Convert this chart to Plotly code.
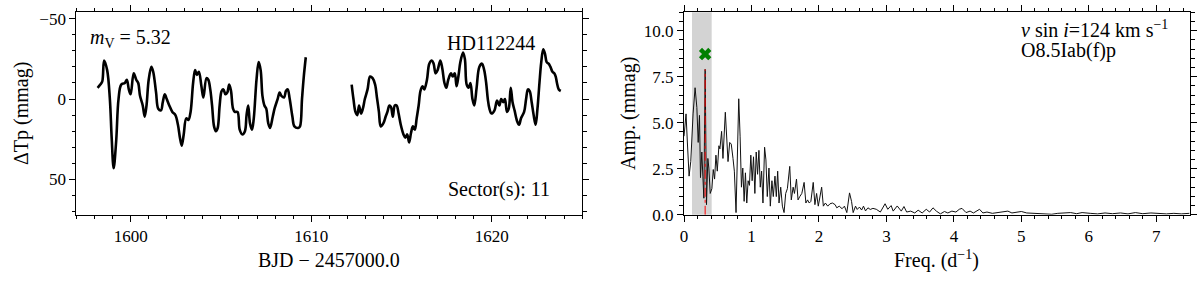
import plotly.graph_objects as go

# ---------------- data ----------------
# light curve, first orbit (BJD - 2457000, delta Tp in mmag)
t1 = [1598.17, 1598.32, 1598.43, 1598.53, 1598.70, 1598.85, 1598.95, 1599.06, 1599.20, 1599.33,
      1599.48, 1599.68, 1599.79, 1599.90, 1600.00, 1600.17, 1600.31, 1600.42, 1600.52, 1600.67,
      1600.78, 1600.88, 1601.00, 1601.15, 1601.25, 1601.41, 1601.53, 1601.68, 1601.78, 1601.89,
      1602.00, 1602.14, 1602.31, 1602.48, 1602.62, 1602.73, 1602.83, 1602.94, 1603.08, 1603.20,
      1603.32, 1603.46, 1603.57, 1603.67, 1603.78, 1603.92, 1604.03, 1604.20, 1604.30, 1604.41,
      1604.51, 1604.62, 1604.72, 1604.82, 1604.93, 1605.04, 1605.14, 1605.25, 1605.35, 1605.46,
      1605.56, 1605.67, 1605.77, 1605.92, 1606.04, 1606.19, 1606.33, 1606.42, 1606.51, 1606.61,
      1606.72, 1606.82, 1606.97, 1607.09, 1607.20, 1607.30, 1607.41, 1607.51, 1607.62, 1607.72,
      1607.87, 1607.97, 1608.14, 1608.25, 1608.35, 1608.50, 1608.60, 1608.70, 1608.81, 1608.96,
      1609.07, 1609.28, 1609.38, 1609.49, 1609.59, 1609.70]
m1 = [-7, -9, -11, -24, -18, 0, 24, 43, 26, 0,
      -9, -10, -12, -6, -3, -16, -12, -10, -2, 4,
      11, 4, -12, -20, -17, -4, 6, 7, 2, -3,
      0, 4, 8, 10, 16, 24, 29, 22, 12, 13,
      8, -10, -18, -15, -17, -8, -1, -13, -12, -6,
      4, 17, 20, 18, 4, -5, -6, -3, -4, -9,
      -5, 6, 8, 8, 19, 22, 20, 10, 4, 15,
      19, 12, -12, -23, -18, -2, 4, 6, 15, 18,
      11, 6, 0, -4, -2, -1, -5, -6, 0, 11,
      17, 18, 17, 0, -14, -26]
# light curve, second orbit
t2 = [1612.24, 1612.34, 1612.45, 1612.55, 1612.65, 1612.76, 1612.86, 1612.97, 1613.12, 1613.26,
      1613.40, 1613.54, 1613.64, 1613.75, 1613.85, 1614.00, 1614.12, 1614.22, 1614.33, 1614.42,
      1614.52, 1614.63, 1614.73, 1614.84, 1614.96, 1615.11, 1615.21, 1615.32, 1615.42, 1615.53,
      1615.63, 1615.74, 1615.84, 1615.95, 1616.05, 1616.16, 1616.26, 1616.41, 1616.54, 1616.68,
      1616.78, 1616.89, 1617.00, 1617.15, 1617.26, 1617.38, 1617.48, 1617.59, 1617.74, 1617.84,
      1617.95, 1618.05, 1618.15, 1618.26, 1618.41, 1618.51, 1618.61, 1618.72, 1618.82, 1618.93,
      1619.03, 1619.16, 1619.31, 1619.46, 1619.58, 1619.69, 1619.78, 1619.87, 1619.98, 1620.15,
      1620.29, 1620.42, 1620.52, 1620.63, 1620.73, 1620.84, 1620.94, 1621.05, 1621.15, 1621.26,
      1621.41, 1621.51, 1621.62, 1621.79, 1621.90, 1622.00, 1622.10, 1622.21, 1622.32, 1622.43,
      1622.53, 1622.64, 1622.74, 1622.85, 1622.95, 1623.04, 1623.15, 1623.25, 1623.36, 1623.46,
      1623.54, 1623.61, 1623.71, 1623.82]
m2 = [-9, 0, 8, 10, 4, 9, 6, 0, -6, -14,
      -13, -9, -1, 8, 17, 15, 11, 8, 4, 5,
      11, 4, 4, 9, 16, 22, 24, 22, 27, 21,
      17, 19, 12, 4, -5, -8, -6, -12, -22, -24,
      -22, -16, -18, -24, -19, -10, -7, -12, -16, -14,
      -16, -8, -14, -23, -29, -25, -9, -7, -10, 0,
      4, -7, -20, -22, -18, -10, 0, 6, 9, 7,
      1, 4, 0, 2, 0, 8, 6, -7, 2, 7,
      14, 16, 12, 8, 0, -6, -5, 2, 10, 16,
      6, -10, -23, -31, -28, -23, -22, -20, -17, -16,
      -14, -10, -6, -5]

# amplitude spectrum (frequency in 1/d, amplitude in mmag)
freq = [0.0, 0.03, 0.05, 0.075, 0.10, 0.134, 0.164, 0.19, 0.21, 0.229,
        0.244, 0.264, 0.279, 0.294, 0.313, 0.333, 0.353, 0.368, 0.388, 0.413,
        0.433, 0.453, 0.473, 0.493, 0.517, 0.532, 0.557, 0.577, 0.612, 0.632,
        0.652, 0.677, 0.70, 0.726, 0.746, 0.771, 0.796, 0.811, 0.831, 0.851,
        0.871, 0.891, 0.91, 0.93, 0.95, 0.97, 0.99, 1.01, 1.03, 1.05,
        1.07, 1.09, 1.11, 1.13, 1.15, 1.17, 1.194, 1.214, 1.234, 1.259,
        1.279, 1.303, 1.323, 1.348, 1.368, 1.388, 1.408, 1.433, 1.458, 1.483,
        1.507, 1.532, 1.567, 1.59, 1.617, 1.637, 1.667, 1.69, 1.716, 1.746,
        1.78, 1.806, 1.831, 1.856, 1.88, 1.915, 1.94, 1.965, 1.99, 2.005,
        2.04, 2.065, 2.095, 2.13, 2.164, 2.20, 2.24, 2.264, 2.30, 2.343,
        2.378, 2.413, 2.453, 2.483, 2.507, 2.542, 2.567, 2.60, 2.632, 2.66,
        2.69, 2.726, 2.76, 2.80, 2.85, 2.91, 2.98, 3.02, 3.07, 3.10,
        3.16, 3.22, 3.26, 3.30, 3.36, 3.42, 3.47, 3.53, 3.59, 3.64,
        3.69, 3.74, 3.80, 3.86, 3.91, 3.97, 4.03, 4.08, 4.12, 4.18,
        4.24, 4.29, 4.38, 4.43, 4.49, 4.57, 4.66, 4.74, 4.80, 4.86,
        4.94, 5.00, 5.08, 5.17, 5.25, 5.37, 5.45, 5.54, 5.62, 5.73,
        5.82, 5.90, 6.02, 6.13, 6.24, 6.35, 6.47, 6.58, 6.69, 6.80,
        6.92, 7.03, 7.15, 7.26, 7.37, 7.49]
amp = [4.27, 5.48, 3.9, 2.1, 2.9, 5.48, 6.9, 5.83, 3.93, 5.4,
       2.02, 3.41, 2.1, 0.9, 7.9, 0.55, 3.06, 2.54, 1.16, 1.42,
       2.46, 1.94, 3.24, 2.37, 3.75, 3.58, 4.53, 3.06, 5.57, 4.36,
       2.89, 3.93, 3.84, 3.06, 2.37, 0.12, 4.27, 6.3, 4.27, 1.5,
       2.54, 0.73, 2.28, 0.64, 1.85, 1.6, 3.24, 1.85, 3.15, 1.16,
       3.41, 2.2, 3.5, 1.5, 2.37, 0.64, 3.67, 2.98, 0.99, 2.54,
       0.47, 1.85, 0.99, 2.1, 0.99, 2.37, 0.64, 1.5, 0.47, 0.12,
       1.16, 1.42, 2.63, 0.81, 1.5, 1.16, 1.94, 0.81, 0.99, 1.16,
       1.76, 0.64, 0.81, 0.64, 0.73, 1.76, 0.55, 1.16, 0.47, 0.81,
       1.5, 0.47, 0.64, 0.47, 0.6, 0.64, 0.55, 0.38, 0.47, 0.33,
       0.47, 0.12, 1.19, 0.73, 0.12, 0.47, 0.29, 0.42, 0.26, 0.47,
       0.21, 0.38, 0.29, 0.35, 0.3, 0.15, 0.6, 0.3, 0.5, 0.2,
       0.48, 0.2, 0.45, 0.15, 0.2, 0.1, 0.25, 0.1, 0.3, 0.15,
       0.38, 0.2, 0.05, 0.18, 0.1, 0.2, 0.15, 0.3, 0.35, 0.12,
       0.2, 0.1, 0.3, 0.1, 0.15, 0.08, 0.12, 0.15, 0.2, 0.1,
       0.15, 0.18, 0.1, 0.08, 0.1, 0.05, 0.03, 0.08, 0.1, 0.12,
       0.06, 0.12, 0.08, 0.05, 0.1, 0.06, 0.1, 0.05, 0.12, 0.06,
       0.1, 0.08, 0.05, 0.08, 0.05, 0.08]

peak_freq = 0.313
peak_amp = 7.9
marker_amp = 8.73
band_lo, band_hi = 0.118, 0.41

lc_yticks = [-50, 0, 50]
lc_yticklabels = ["\u221250", "0", "50"]
lc_xticks = [1600, 1610, 1620]
lc_xticklabels = ["1600", "1610", "1620"]
ps_xticks = [0, 1, 2, 3, 4, 5, 6, 7]
ps_yticks = [0.0, 2.5, 5.0, 7.5, 10.0]
ps_yticklabels = ["0.0", "2.5", "5.0", "7.5", "10.0"]

# ---------------- figure ----------------
W, H = 1200, 281
FONT = "Liberation Serif"


def px(x):
    return x / W


def py(y):
    return 1 - y / H


fig = go.Figure()

for tt, mm in ((t1, m1), (t2, m2)):
    fig.add_trace(go.Scatter(x=tt, y=mm, mode="lines", line=dict(color="black", width=2.6),
                             line_shape="spline", xaxis="x", yaxis="y", showlegend=False,
                             hoverinfo="skip"))

fig.add_trace(go.Scatter(x=freq, y=amp, mode="lines", line=dict(color="#111111", width=1),
                         xaxis="x2", yaxis="y2", showlegend=False, hoverinfo="skip"))
fig.add_trace(go.Scatter(x=[peak_freq, peak_freq], y=[0, peak_amp], mode="lines",
                         line=dict(color="red", width=1, dash="dashdot"),
                         xaxis="x2", yaxis="y2", showlegend=False, hoverinfo="skip"))
fig.add_trace(go.Scatter(x=[peak_freq], y=[marker_amp], mode="markers",
                         marker=dict(symbol="x", color="green", size=11,
                                     line=dict(width=0)),
                         xaxis="x2", yaxis="y2", showlegend=False, hoverinfo="skip"))

fig.add_shape(type="rect", xref="x2", yref="y2 domain", x0=band_lo, x1=band_hi, y0=0, y1=1,
              fillcolor="lightgrey", line=dict(width=0), layer="below")

tickfont = dict(family=FONT, size=17, color="black")
common = dict(showline=True, linecolor="black", linewidth=1.2, mirror="ticks",
              ticks="outside", ticklen=6, tickwidth=1.1, tickcolor="black",
              showgrid=False, zeroline=False, tickfont=tickfont)

yd = [py(222.3), py(10.7)]
fig.update_layout(
    width=W, height=H, margin=dict(l=0, r=0, t=0, b=0),
    paper_bgcolor="white", plot_bgcolor="white",
    font=dict(family=FONT, color="black"),
    xaxis=dict(domain=[px(72.7), px(580)], range=[1597, 1625], tickvals=lc_xticks,
               ticktext=lc_xticklabels,
               minor=dict(dtick=1, tick0=1600, ticks="outside", ticklen=3.5, tickcolor="black"),
               anchor="y", **common),
    yaxis=dict(domain=yd, range=[72, -54], tickvals=lc_yticks, ticktext=lc_yticklabels,
               minor=dict(dtick=10, tick0=0, ticks="outside", ticklen=3.5, tickcolor="black"),
               anchor="x", **common),
    xaxis2=dict(domain=[px(682.3), px(1190)], range=[0, 7.5], tickvals=ps_xticks,
                minor=dict(dtick=0.2, tick0=0, ticks="outside", ticklen=3.5, tickcolor="black"),
                anchor="y2", **common),
    yaxis2=dict(domain=yd, range=[0, 11], tickvals=ps_yticks, ticktext=ps_yticklabels,
                minor=dict(dtick=0.5, tick0=0, ticks="outside", ticklen=3.5, tickcolor="black"),
                anchor="x2", **common),
)

ann = [
    dict(text="BJD \u2212 2457000.0", x=px(326), y=py(270), xanchor="center", yanchor="middle", size=20),
    dict(text="Freq. (d<sup>\u22121</sup>)", x=px(936), y=py(269), xanchor="center", yanchor="middle", size=20),
    dict(text="\u0394Tp (mmag)", x=px(17), y=py(116), xanchor="center", yanchor="middle", size=20, angle=-90),
    dict(text="Amp. (mmag)", x=px(626), y=py(116), xanchor="center", yanchor="middle", size=20, angle=-90),
    dict(text="<i>m</i><sub>V</sub> = 5.32", x=px(84), y=py(38), xanchor="left", yanchor="middle", size=20),
    dict(text="HD112244", x=px(489), y=py(42.5), xanchor="center", yanchor="middle", size=20),
    dict(text="Sector(s): 11", x=px(550), y=py(195.5), xanchor="right", yanchor="middle", size=20),
    dict(text="<i>v</i> sin <i>i</i>=124 km s<sup>\u22121</sup>", x=px(1018), y=py(28), xanchor="left", yanchor="middle", size=20),
    dict(text="O8.5Iab(f)p", x=px(1018), y=py(51), xanchor="left", yanchor="middle", size=20),
]
for a in ann:
    fig.add_annotation(text=a["text"], x=a["x"], y=a["y"], xref="paper", yref="paper",
                       xanchor=a["xanchor"], yanchor=a["yanchor"], showarrow=False,
                       textangle=a.get("angle", 0),
                       font=dict(family=FONT, size=a["size"], color="black"))

fig.write_html("out.html", config={"displayModeBar": False},
               post_script="document.body.style.margin='0';document.body.style.overflow='hidden';")
